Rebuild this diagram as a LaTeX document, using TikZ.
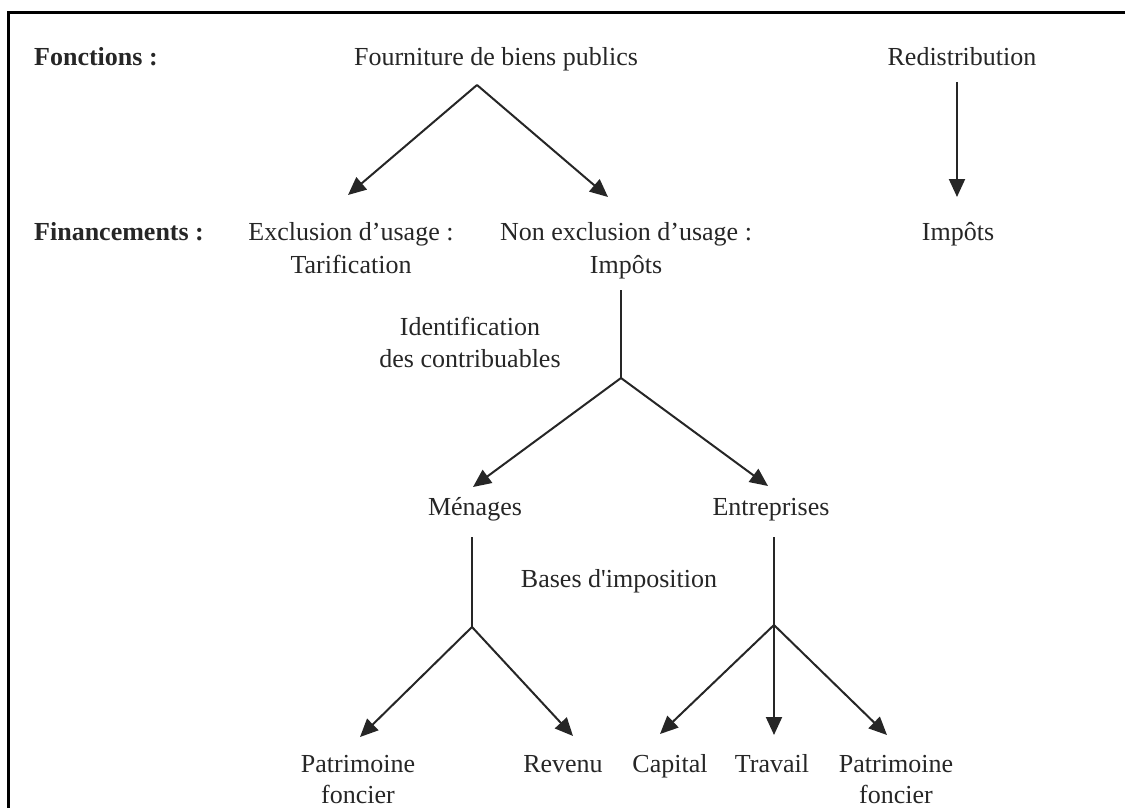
\documentclass[tikz,border=0pt]{standalone}
\usepackage{fontspec}
\setmainfont{Liberation Serif}
\usetikzlibrary{arrows.meta}
\definecolor{ink}{HTML}{262626}
\begin{document}
\begin{tikzpicture}[x=1pt,y=-1pt,
  lbl/.style={font=\fontsize{26}{32}\selectfont, text=ink, inner sep=0pt, anchor=base},
  head/.style={font=\fontsize{26}{32}\selectfont\bfseries, text=ink, inner sep=0pt, anchor=base west},
  conn/.style={draw=ink, line width=2pt},
  arr/.style={conn, -{Triangle[length=18pt,width=16pt]}},
  frame/.style={draw=black, line width=3pt}]
\useasboundingbox (0,0) rectangle (1125,808);
\draw[frame] (8,810) -- (8,13) -- (1126,13);

% texts
\node[head] (fonc) at (34,66) {Fonctions :};
\node[lbl] (four) at (496,66) {Fourniture de biens publics};
\node[lbl] (redis) at (962,66) {Redistribution};
\node[head] (fin) at (34,240) {Financements :};
\node[lbl] (excl1) at (351,240) {Exclusion d’usage :};
\node[lbl] (excl2) at (351,273) {Tarification};
\node[lbl] (nonex1) at (626,240) {Non exclusion d’usage :};
\node[lbl] (nonex2) at (626,273) {Impôts};
\node[lbl] (imp) at (958,240) {Impôts};
\node[lbl] (ident1) at (470,335) {Identification};
\node[lbl] (ident2) at (470,367) {des contribuables};
\node[lbl] (men) at (475,515) {Ménages};
\node[lbl] (ent) at (771,515) {Entreprises};
\node[lbl] (bases) at (619,587) {Bases d\textquotesingle imposition};
\node[lbl] (patl1) at (358,772) {Patrimoine};
\node[lbl] (patl2) at (358,803) {foncier};
\node[lbl] (rev) at (563,772) {Revenu};
\node[lbl] (cap) at (670,772) {Capital};
\node[lbl] (trav) at (772,772) {Travail};
\node[lbl] (patr1) at (896,772) {Patrimoine};
\node[lbl] (patr2) at (896,803) {foncier};

% junctions and arrow ends
\coordinate (jF) at (477,85);
\coordinate (tEx) at (348,195);
\coordinate (tNon) at (608,197);
\coordinate (rTop) at (957,82);
\coordinate (rTip) at (957,197);
\coordinate (iTop) at (621,290);
\coordinate (jI) at (621,378);
\coordinate (tMen) at (473,487);
\coordinate (tEnt) at (768,486);
\coordinate (mTop) at (472,537);
\coordinate (jM) at (472,627);
\coordinate (tPatL) at (360,737);
\coordinate (tRev) at (573,736);
\coordinate (eTop) at (774,537);
\coordinate (jE) at (774,625);
\coordinate (tCap) at (660,734);
\coordinate (tTrav) at (774,735);
\coordinate (tPatR) at (887,735);

% connectors
\draw[arr] (jF) -- (tEx);
\draw[arr] (jF) -- (tNon);
\draw[arr] (rTop) -- (rTip);
\draw[conn] (iTop) -- (jI);
\draw[arr] (jI) -- (tMen);
\draw[arr] (jI) -- (tEnt);
\draw[conn] (mTop) -- (jM);
\draw[arr] (jM) -- (tPatL);
\draw[arr] (jM) -- (tRev);
\draw[conn] (eTop) -- (jE);
\draw[arr] (jE) -- (tCap);
\draw[arr] (jE) -- (tTrav);
\draw[arr] (jE) -- (tPatR);
\end{tikzpicture}
\end{document}
